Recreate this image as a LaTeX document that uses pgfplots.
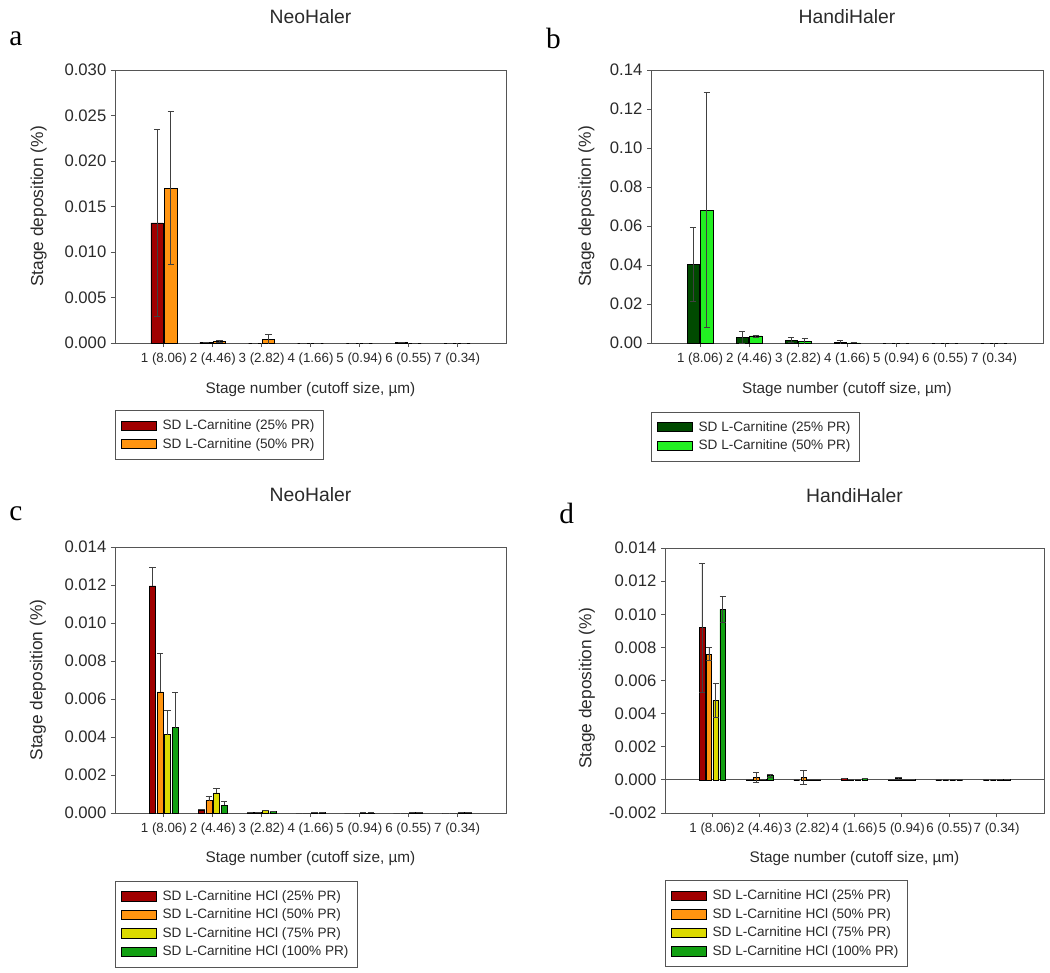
\documentclass[border=0pt]{standalone}
\usepackage{fontspec}
\setmainfont{Liberation Sans}
\newfontfamily\seriffont{Liberation Serif}
\usepackage{pgfplots}
\usepackage{pgfplotstable}
\pgfplotsset{compat=1.18}

\definecolor{cRed}{HTML}{A00000}
\definecolor{cOrange}{HTML}{FF9410}
\definecolor{cYellow}{HTML}{DCDA00}
\definecolor{cGreen}{HTML}{12A012}
\definecolor{cDGreen}{HTML}{004A00}
\definecolor{cLGreen}{HTML}{22F022}
\definecolor{axgray}{HTML}{555555}
\definecolor{txt}{HTML}{2A2A2A}

% panel a: NeoHaler, SD L-Carnitine
\pgfplotstableread{
x r re o oe
1 0.0132 0.0103 0.0170 0.0084
2 0.0001 0.0000 0.0002 0.0001
3 0.0000 0.0000 0.0004 0.0005
4 0.0000 0.0000 0.0000 0.0000
5 0.0000 0.0000 0.0000 0.0000
6 0.0001 0.0000 0.0000 0.0000
7 0.0000 0.0000 0.0000 0.0000
}\dataA

% panel b: HandiHaler, SD L-Carnitine
\pgfplotstableread{
x d de l le
1 0.0404 0.0190 0.0682 0.0603
2 0.0029 0.0029 0.0036 0.0005
3 0.0015 0.0014 0.0007 0.0015
4 0.0003 0.0008 0.0001 0.0000
5 0.0000 0.0000 0.0000 0.0000
6 0.0000 0.0000 0.0000 0.0000
7 0.0000 0.0000 0.0000 0.0000
}\dataB

% panel c: NeoHaler, SD L-Carnitine HCl
\pgfplotstableread{
x r re o oe y ye g ge
1 0.01196 0.00097 0.00638 0.00200 0.00412 0.00130 0.00449 0.00185
2 0.00016 0.00003 0.00065 0.00020 0.00106 0.00024 0.00040 0.00021
3 0.00003 0.00000 0.00005 0.00000 0.00012 0.00003 0.00007 0.00000
4 0.00000 0.00000 0.00000 0.00000 0.00002 0.00000 0.00002 0.00000
5 0.00000 0.00000 0.00000 0.00000 0.00001 0.00000 0.00001 0.00000
6 0.00000 0.00000 0.00000 0.00000 0.00002 0.00000 0.00002 0.00000
7 0.00000 0.00000 0.00000 0.00000 0.00002 0.00000 0.00002 0.00000
}\dataC

% panel d: HandiHaler, SD L-Carnitine HCl
\pgfplotstableread{
x r re o oe y ye g ge
1 0.00920 0.00390 0.00760 0.00040 0.00480 0.00100 0.01030 0.00080
2 0.00005 0.00000 0.00015 0.00030 0.00003 0.00000 0.00025 0.00010
3 0.00000 0.00000 0.00015 0.00040 0.00003 0.00000 0.00003 0.00000
4 0.00008 0.00000 0.00000 0.00000 0.00000 0.00000 0.00008 0.00000
5 0.00002 0.00000 0.00008 0.00005 0.00003 0.00000 0.00003 0.00000
6 0.00000 0.00000 0.00000 0.00000 0.00000 0.00000 0.00000 0.00000
7 0.00000 0.00000 0.00000 0.00000 0.00002 0.00000 0.00002 0.00000
}\dataD

\pgfplotsset{
  panel/.style={
    scale only axis,
    anchor=south west,
    xmin=0, xmax=8,
    xtick={1,2,3,4,5,6,7},
    xticklabels={1 (8.06),2 (4.46),3 (2.82),4 (1.66),5 (0.94),6 (0.55),7 (0.34)},
    tick pos=left,
    tick align=outside,
    major tick length=3pt,
    axis line style={axgray, line width=0.7pt},
    every tick/.style={axgray, line width=0.6pt},
    scaled y ticks=false,
    /pgf/number format/fixed,
    /pgf/number format/fixed zerofill,
    /pgf/number format/assume math mode=true,
    x tick label style={font=\fontsize{10}{11}\selectfont, text=txt, yshift=-1pt},
    y tick label style={font=\fontsize{12.5}{13}\selectfont, text=txt},
    every axis x label/.style={at={(axis description cs:0.5,0)}, anchor=center, font=\fontsize{11.5}{13}\selectfont, text=txt},
    title style={at={(axis description cs:0.5,1)}, anchor=center, font=\fontsize{14.5}{16}\selectfont, text=txt},
    ybar,
    legend cell align=left,
    legend style={anchor=north west, draw=axgray, line width=0.6pt, fill=white,
      font=\fontsize{10.2}{12}\selectfont, text=txt, inner xsep=4.5pt, inner ysep=5pt,
      row sep=1pt,
      /tikz/every odd column/.append style={column sep=2.5pt},
      /tikz/every even column/.append style={column sep=2pt}},
  },
  bstyle/.style={
    fill=#1, draw=black, line width=0.4pt,
    legend image code/.code={\draw[fill=#1, draw=black, line width=0.4pt] (0pt,-3.4pt) rectangle (26pt,3.4pt);},
    error bars/.cd, y dir=both, y explicit,
    error bar style={black!75, line width=0.6pt},
    error mark options={black!75, line width=0.6pt, mark size=2.4pt, rotate=90},
  },
  bstyleup/.style={
    fill=#1, draw=black, line width=0.4pt,
    legend image code/.code={\draw[fill=#1, draw=black, line width=0.4pt] (0pt,-3.4pt) rectangle (26pt,3.4pt);},
    error bars/.cd, y dir=plus, y explicit,
    error bar style={black!75, line width=0.6pt},
    error mark options={black!75, line width=0.6pt, mark size=2.4pt, rotate=90},
  },
  ylab/.style 2 args={every axis y label/.style={at={(axis description cs:#1,#2)}, rotate=90, anchor=center, font=\fontsize{13}{15}\selectfont, text=txt}},
}

\begin{document}
\begin{tikzpicture}
\path (0pt,0pt) rectangle (787.5pt,-729pt);

% ---------- a ----------
\begin{axis}[panel,
  at={(86.25pt,-257.25pt)}, width=293.25pt, height=204.75pt,
  ymin=0, ymax=0.030, ytick={0,0.005,0.010,0.015,0.020,0.025,0.030},
  /pgf/number format/precision=3,
  title={NeoHaler}, title style={yshift=34pt},
  ylabel={Stage deposition (\%)}, ylab={-0.195}{0.5},
  xlabel={Stage number (cutoff size, µm)},
  xlabel style={yshift=-35pt},
  legend style={at={(axis description cs:0,-0.245)}},
]
\addplot[bar width=0.25, bar shift=-0.14, bstyle=cRed] table[x=x, y=r, y error=re]{\dataA};
\addplot[bar width=0.25, bar shift=0.14, bstyle=cOrange] table[x=x, y=o, y error=oe]{\dataA};
\legend{SD L-Carnitine (25\% PR), SD L-Carnitine (50\% PR)}
\end{axis}

% ---------- b ----------
\begin{axis}[panel,
  at={(488.25pt,-257.25pt)}, width=294pt, height=204.75pt,
  ymin=0, ymax=0.14, ytick={0,0.02,0.04,0.06,0.08,0.10,0.12,0.14},
  /pgf/number format/precision=2,
  title={HandiHaler}, title style={yshift=34pt},
  ylabel={Stage deposition (\%)}, ylab={-0.165}{0.5},
  xlabel={Stage number (cutoff size, µm)},
  xlabel style={yshift=-35pt},
  legend style={at={(axis description cs:0,-0.251)}},
]
\addplot[bar width=0.25, bar shift=-0.14, bstyle=cDGreen] table[x=x, y=d, y error=de]{\dataB};
\addplot[bar width=0.25, bar shift=0.14, bstyle=cLGreen] table[x=x, y=l, y error=le]{\dataB};
\legend{SD L-Carnitine (25\% PR), SD L-Carnitine (50\% PR)}
\end{axis}

% ---------- c ----------
\begin{axis}[panel,
  at={(86.25pt,-609.75pt)}, width=293.25pt, height=199.5pt,
  ymin=0, ymax=0.014, ytick={0,0.002,0.004,0.006,0.008,0.010,0.012,0.014},
  /pgf/number format/precision=3,
  title={NeoHaler}, title style={yshift=33pt},
  ylabel={Stage deposition (\%)}, ylab={-0.197}{0.5},
  xlabel={Stage number (cutoff size, µm)},
  xlabel style={yshift=-34pt},
  legend style={at={(axis description cs:0,-0.254)}},
]
\addplot[bar width=0.125, bar shift=-0.233, bstyleup=cRed] table[x=x, y=r, y error=re]{\dataC};
\addplot[bar width=0.125, bar shift=-0.078, bstyleup=cOrange] table[x=x, y=o, y error=oe]{\dataC};
\addplot[bar width=0.125, bar shift=0.078, bstyleup=cYellow] table[x=x, y=y, y error=ye]{\dataC};
\addplot[bar width=0.125, bar shift=0.233, bstyleup=cGreen] table[x=x, y=g, y error=ge]{\dataC};
\legend{SD L-Carnitine HCl (25\% PR), SD L-Carnitine HCl (50\% PR), SD L-Carnitine HCl (75\% PR), SD L-Carnitine HCl (100\% PR)}
\end{axis}

% ---------- d ----------
\begin{axis}[panel,
  at={(498.75pt,-609.75pt)}, width=284.25pt, height=198.75pt,
  ymin=-0.002, ymax=0.014, ytick={-0.002,0,0.002,0.004,0.006,0.008,0.010,0.012,0.014},
  /pgf/number format/precision=3,
  extra y ticks={0}, extra y tick labels={},
  extra y tick style={grid=major, major grid style={axgray, line width=0.6pt}, major tick length=0pt},
  title={HandiHaler}, title style={yshift=33pt},
  ylabel={Stage deposition (\%)}, ylab={-0.206}{0.47},
  xlabel={Stage number (cutoff size, µm)},
  xlabel style={yshift=-34pt},
  legend style={at={(axis description cs:0,-0.253)}},
]
\addplot[bar width=0.12, bar shift=-0.22, bstyle=cRed] table[x=x, y=r, y error=re]{\dataD};
\addplot[bar width=0.12, bar shift=-0.073, bstyle=cOrange] table[x=x, y=o, y error=oe]{\dataD};
\addplot[bar width=0.12, bar shift=0.073, bstyle=cYellow] table[x=x, y=y, y error=ye]{\dataD};
\addplot[bar width=0.12, bar shift=0.22, bstyle=cGreen] table[x=x, y=g, y error=ge]{\dataD};
\legend{SD L-Carnitine HCl (25\% PR), SD L-Carnitine HCl (50\% PR), SD L-Carnitine HCl (75\% PR), SD L-Carnitine HCl (100\% PR)}
\end{axis}

% panel letters
\node[font=\seriffont\fontsize{22}{22}\selectfont, text=black] at (12pt,-29pt) {a};
\node[font=\seriffont\fontsize{22}{22}\selectfont, text=black] at (415pt,-29pt) {b};
\node[font=\seriffont\fontsize{22}{22}\selectfont, text=black] at (12pt,-385pt) {c};
\node[font=\seriffont\fontsize{22}{22}\selectfont, text=black] at (425pt,-385pt) {d};
\end{tikzpicture}
\end{document}
